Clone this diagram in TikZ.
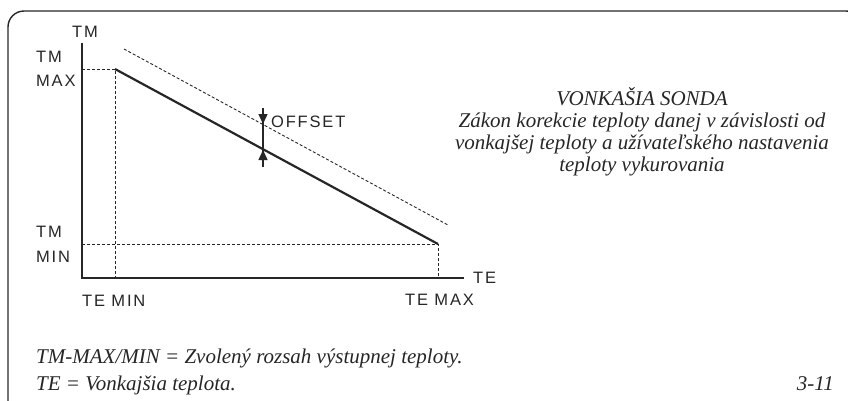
\documentclass[tikz,border=0pt]{standalone}
\usepackage{fontspec}
\setmainfont{Liberation Serif}
\newfontfamily\techfont[LetterSpace=11]{Liberation Sans}
\usetikzlibrary{arrows.meta}
\definecolor{ink}{HTML}{262626}
\tikzset{
  axis/.style={line width=2.2pt,draw=ink},
  law/.style={line width=2.2pt,draw=ink},
  guide/.style={line width=0.9pt,draw=ink,dash pattern=on 3pt off 2pt},
  tech/.style={font=\techfont\fontsize{16.5}{18}\selectfont,text=ink,inner sep=0pt,anchor=base west},
  note/.style={font=\itshape\fontsize{21}{22}\selectfont,text=ink,inner sep=0pt},
}
\begin{document}
\begin{tikzpicture}[x=1pt,y=-1pt,>={Triangle[length=10pt,width=9pt]}]
\useasboundingbox (0,0) rectangle (848,400);
% khung
\draw[ink,line width=1.4pt,rounded corners=16pt] (8,430) -- (8,11) -- (862,11) -- (862,430);
% hai truc
\coordinate (O) at (82,278);
\coordinate (ytop) at (82,43);
\coordinate (xend) at (464,278);
\draw[axis] (ytop) -- (O) -- (xend);
% duong dac tuyen va duong offset
\coordinate (tmax) at (115,69);
\coordinate (tmin) at (438,244);
\coordinate (sa) at (124,49);
\coordinate (sb) at (448,225);
\draw[guide] (O |- tmax) -- (tmax) -- (tmax |- O);
\draw[guide] (O |- tmin) -- (tmin) -- (tmin |- O);
\draw[guide] (sa) -- (sb);
\draw[law] (tmax) -- (tmin);
% mui ten offset
\coordinate (ot) at (263,108);
\coordinate (ob) at (263,167);
\draw[ink,line width=1.4pt] (ot) -- (ob);
\draw[ink,line width=1.4pt,->] (ot) -- (263,124);
\draw[ink,line width=1.4pt,->] (ob) -- (263,150);
% nhan tren truc
\node[tech] (tm) at (72,37) {TM};
\node[tech] (te) at (473,283) {TE};
\node[tech] (tmmax1) at (36,62) {TM};
\node[tech] (tmmax2) at (36,86) {MAX};
\node[tech] (tmmin1) at (36,237) {TM};
\node[tech] (tmmin2) at (36,262) {MIN};
\node[tech] (temin) at (82,306) {TE MIN};
\node[tech] (temax) at (405,305) {TE MAX};
\node[tech] (offset) at (271,127) {OFFSET};
% chu thich
\node[note,align=center,anchor=base] (title) at (642,171) {VONKAŠIA SONDA\\Zákon korekcie teploty danej v závislosti od\\vonkajšej teploty a užívateľského nastavenia\\teploty vykurovania};
\node[note,anchor=base west] (leg1) at (36,363) {TM-MAX/MIN = Zvolený rozsah výstupnej teploty.};
\node[note,anchor=base west] (leg2) at (36,390) {TE = Vonkajšia teplota.};
\node[note,anchor=base east] (fig) at (834,390) {3-11};
\end{tikzpicture}
\end{document}
